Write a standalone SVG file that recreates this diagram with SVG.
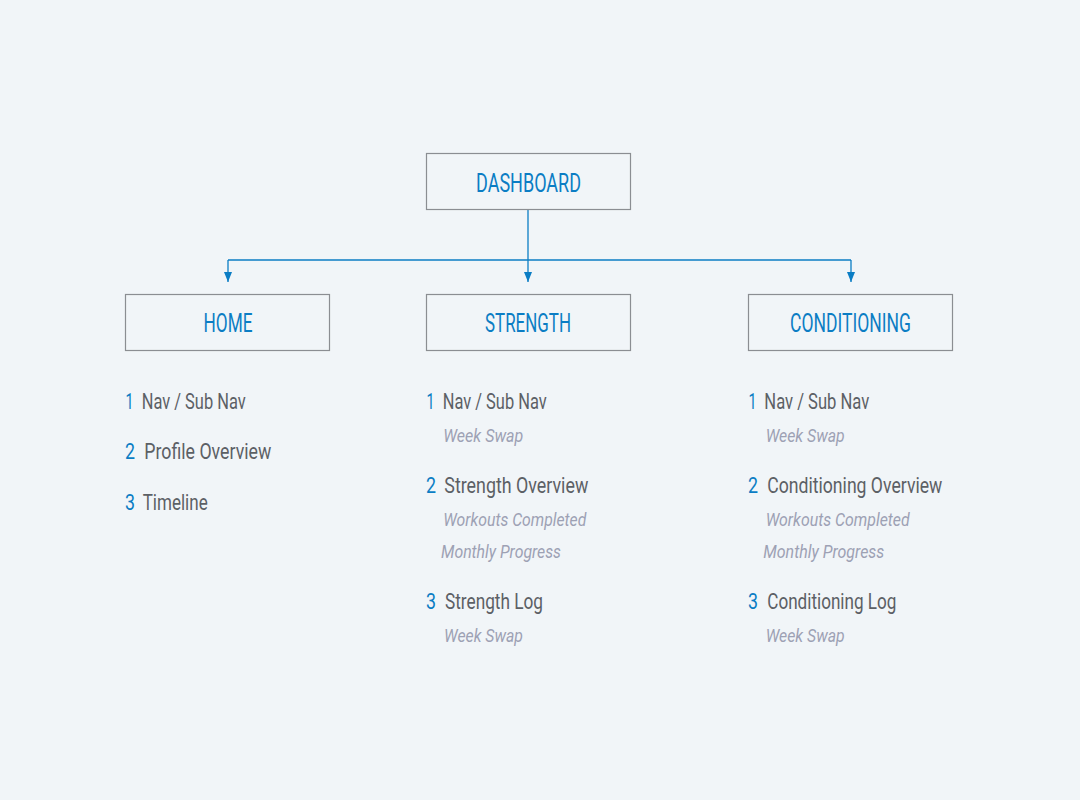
<svg xmlns="http://www.w3.org/2000/svg" width="1080" height="800" viewBox="0 0 1080 800">
<defs>
<style>
.box{fill:#f1f5f8;stroke:#8b8e92;stroke-width:1.2}
.lbl{font-family:Roboto,"Liberation Sans",sans-serif;font-size:25px;fill:#0b7dc4;text-anchor:middle}
.num{font-family:Roboto,"Liberation Sans",sans-serif;font-size:22.5px;fill:#0b7dc4}
.item{font-family:Roboto,"Liberation Sans",sans-serif;font-size:22.5px;fill:#5c6065}
.sub{font-family:Roboto,"Liberation Sans",sans-serif;font-size:19px;font-style:italic;fill:#9da1b4}
.conn{fill:none;stroke:#0b7dc4;stroke-width:1.3}
</style>
<marker id="arr" viewBox="0 0 10 8" refX="10" refY="4" markerWidth="10" markerHeight="8" markerUnits="userSpaceOnUse" orient="auto">
<path d="M0,0 L10,4 L0,8 Z" fill="#0b7dc4"/>
</marker>
</defs>
<rect width="1080" height="800" fill="#f1f5f8"/>
<g id="connectors">
<path class="conn" d="M528,210 V282" marker-end="url(#arr)"/>
<path class="conn" d="M228,260 H851"/>
<path class="conn" d="M228,260 V282" marker-end="url(#arr)"/>
<path class="conn" d="M851,260 V282" marker-end="url(#arr)"/>
</g>
<g id="dashboard">
<rect class="box" x="426.5" y="153.5" width="204" height="56"/>
<text class="lbl" x="528.5" y="191.7" textLength="105" lengthAdjust="spacingAndGlyphs">DASHBOARD</text>
</g>
<g id="home">
<rect class="box" x="125.5" y="294.5" width="204" height="56"/>
<text class="lbl" x="228" y="331.7" textLength="49" lengthAdjust="spacingAndGlyphs">HOME</text>
</g>
<g id="strength">
<rect class="box" x="426.5" y="294.5" width="204" height="56"/>
<text class="lbl" x="528" y="331.7" textLength="86" lengthAdjust="spacingAndGlyphs">STRENGTH</text>
</g>
<g id="conditioning">
<rect class="box" x="748.5" y="294.5" width="204" height="56"/>
<text class="lbl" x="850.5" y="331.7" textLength="121" lengthAdjust="spacingAndGlyphs">CONDITIONING</text>
</g>
<g id="home-items">
<text class="num" x="125.5" y="409.3" textLength="8" lengthAdjust="spacingAndGlyphs">1</text>
<text class="item" x="141.7" y="409.3" textLength="104" lengthAdjust="spacingAndGlyphs">Nav / Sub Nav</text>
<text class="num" x="125" y="459.3" textLength="10" lengthAdjust="spacingAndGlyphs">2</text>
<text class="item" x="144.3" y="459.3" textLength="127" lengthAdjust="spacingAndGlyphs">Profile Overview</text>
<text class="num" x="125" y="510" textLength="10" lengthAdjust="spacingAndGlyphs">3</text>
<text class="item" x="142.7" y="510" textLength="65" lengthAdjust="spacingAndGlyphs">Timeline</text>
</g>
<g id="strength-items">
<text class="num" x="426.5" y="409.3" textLength="8" lengthAdjust="spacingAndGlyphs">1</text>
<text class="item" x="442.7" y="409.3" textLength="104" lengthAdjust="spacingAndGlyphs">Nav / Sub Nav</text>
<text class="sub" x="443.3" y="441.7" textLength="80" lengthAdjust="spacingAndGlyphs">Week Swap</text>
<text class="num" x="426" y="492.7" textLength="10" lengthAdjust="spacingAndGlyphs">2</text>
<text class="item" x="444.3" y="492.7" textLength="144" lengthAdjust="spacingAndGlyphs">Strength Overview</text>
<text class="sub" x="443.3" y="525.7" textLength="143" lengthAdjust="spacingAndGlyphs">Workouts Completed</text>
<text class="sub" x="441" y="558.3" textLength="120" lengthAdjust="spacingAndGlyphs">Monthly Progress</text>
<text class="num" x="426" y="609.3" textLength="10" lengthAdjust="spacingAndGlyphs">3</text>
<text class="item" x="445" y="609.3" textLength="98" lengthAdjust="spacingAndGlyphs">Strength Log</text>
<text class="sub" x="444" y="642.3" textLength="79" lengthAdjust="spacingAndGlyphs">Week Swap</text>
</g>
<g id="conditioning-items">
<text class="num" x="748.5" y="409.3" textLength="8" lengthAdjust="spacingAndGlyphs">1</text>
<text class="item" x="764.3" y="409.3" textLength="105" lengthAdjust="spacingAndGlyphs">Nav / Sub Nav</text>
<text class="sub" x="765.7" y="441.7" textLength="79" lengthAdjust="spacingAndGlyphs">Week Swap</text>
<text class="num" x="748" y="492.7" textLength="10" lengthAdjust="spacingAndGlyphs">2</text>
<text class="item" x="767.3" y="492.7" textLength="175" lengthAdjust="spacingAndGlyphs">Conditioning Overview</text>
<text class="sub" x="765.7" y="525.7" textLength="144" lengthAdjust="spacingAndGlyphs">Workouts Completed</text>
<text class="sub" x="763.3" y="558.3" textLength="121" lengthAdjust="spacingAndGlyphs">Monthly Progress</text>
<text class="num" x="748" y="609.3" textLength="10" lengthAdjust="spacingAndGlyphs">3</text>
<text class="item" x="767.3" y="609.3" textLength="129" lengthAdjust="spacingAndGlyphs">Conditioning Log</text>
<text class="sub" x="765.7" y="642.3" textLength="79" lengthAdjust="spacingAndGlyphs">Week Swap</text>
</g>
</svg>
